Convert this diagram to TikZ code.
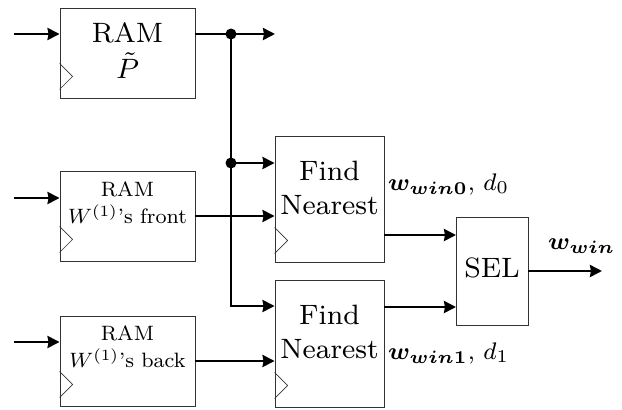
\documentclass[tikz,border=0pt]{standalone}
\usepackage{graphicx}
\usepackage{bm}
\usetikzlibrary{arrows.meta}
% text is set at a small design size and enlarged
\newcommand{\bigtxt}[2][9.7]{\scalebox{3.5}{\fontsize{8}{#1}\selectfont\begin{tabular}{@{}c@{}}#2\end{tabular}}}
\newcommand{\smalltxt}[1]{\scalebox{2.6}{\fontsize{8}{10.4}\selectfont\begin{tabular}{@{}c@{}}#1\end{tabular}}}
\newcommand{\sigtxt}[1]{\scalebox{3.0}{\fontsize{8}{10}\selectfont #1}}
\begin{document}
\begin{tikzpicture}[x=1pt,y=-1pt,
  blk/.style={draw=black!80, line width=0.9pt, inner sep=0pt},
  wire/.style={line width=2.6pt},
  arr/.style={wire, -{Stealth[length=12pt,width=12pt,inset=1pt]}},
  clk/.style={draw=black!80, line width=0.7pt},
  txt/.style={inner sep=0pt},
  lbl/.style={inner sep=0pt, anchor=west}]
\useasboundingbox (0,0) rectangle (622,410);

% storage blocks
\node[blk, minimum width=135pt, minimum height=90pt] (ramP) at (127.5,53) {};
\node[blk, minimum width=135pt, minimum height=90pt] (ramF) at (127.5,216) {};
\node[blk, minimum width=135pt, minimum height=90pt] (ramB) at (127.5,361) {};
% search blocks and selector
\node[blk, minimum width=109pt, minimum height=126pt] (fn1) at (329.5,199) {};
\node[blk, minimum width=109pt, minimum height=127pt] (fn2) at (329.5,343.5) {};
\node[blk, minimum width=72pt, minimum height=108pt] (sel) at (492,271) {};

% block texts
\node[txt] (tP) at (127.5,54) {\bigtxt[9.4]{RAM\\$\tilde{P}$}};
\node[txt] (tF) at (127.5,205) {\smalltxt{RAM\\$W^{(1)}$'s front}};
\node[txt] (tB) at (127.5,349) {\smalltxt{RAM\\$W^{(1)}$'s back}};
\node[txt] (t1) at (329.5,191) {\bigtxt{Find\\Nearest}};
\node[txt] (t2) at (329.5,335) {\bigtxt{Find\\Nearest}};
\node[txt] (tS) at (492,271) {\bigtxt{SEL}};

% clock markers
\foreach \b in {ramP,ramF,ramB,fn1,fn2}
  \draw[clk] ([yshift=35pt]\b.south west) -- ([xshift=13pt,yshift=22pt]\b.south west) -- ([yshift=9pt]\b.south west);

% free ends and junctions
\coordinate (inP) at (14,34);
\coordinate (inF) at (14,198);
\coordinate (inB) at (14,342);
\coordinate (j1) at (231,34);
\coordinate (j2) at (231,163);
\coordinate (j3) at (231,306);
\coordinate (outP) at (275,34);
\coordinate (s1) at (456,235);
\coordinate (s2) at (456,307);
\coordinate (outS) at (602,271);

% inputs
\draw[arr] (inP) -- (inP -| ramP.west);
\draw[arr] (inF) -- (inF -| ramF.west);
\draw[arr] (inB) -- (inB -| ramB.west);

% distribution of the first block's output
\draw[wire] (ramP.east |- j1) -- (j1);
\draw[arr] (j1) -- (outP);
\draw[wire] (j1) -- (j3);
\draw[arr] ([xshift=-1.3pt]j3) -- (j3 -| fn2.west);
\draw[arr] (j2) -- (j2 -| fn1.west);
\fill (j1) circle (5.5pt);
\fill (j2) circle (5.5pt);

% memory outputs
\draw[arr] (ramF.east) -- (ramF.east -| fn1.west);
\draw[arr] (ramB.east) -- (ramB.east -| fn2.west);

% to the selector
\draw[arr] (fn1.east |- s1) -- (s1);
\draw[arr] (fn2.east |- s2) -- (s2);
\draw[arr] (sel.east |- outS) -- (outS);

% signal labels
\node[lbl] (l0) at (388,184) {\sigtxt{$\bm{w}_{\bm{win0}},\, d_0$}};
\node[lbl] (l1) at (388,353) {\sigtxt{$\bm{w}_{\bm{win1}},\, d_1$}};
\node[lbl] (lw) at (548,246) {\sigtxt{$\bm{w}_{\bm{win}}$}};
\end{tikzpicture}
\end{document}
